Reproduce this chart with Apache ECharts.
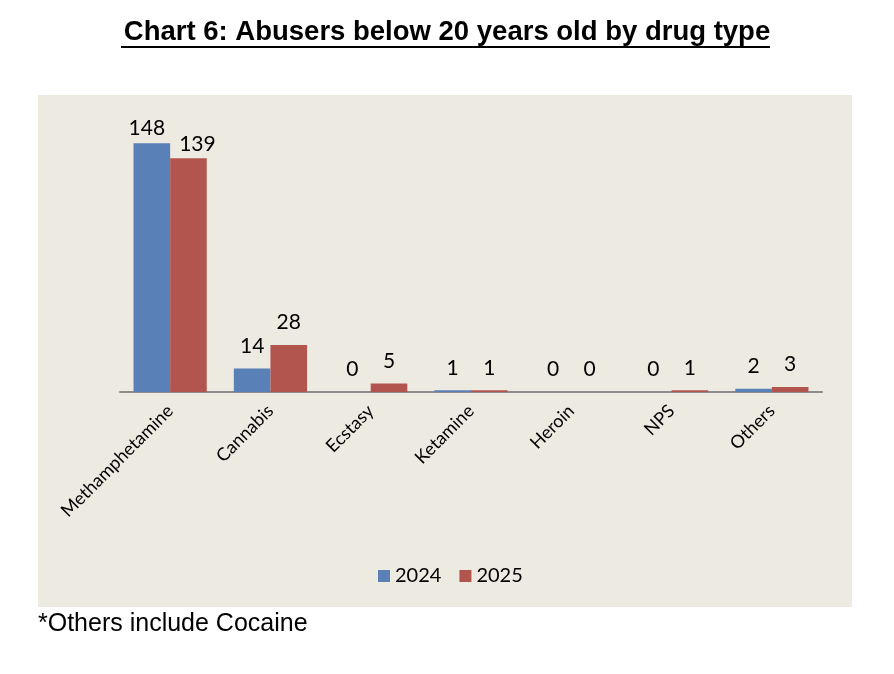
<!DOCTYPE html>
<html>
<head>
<meta charset="utf-8">
<style>
  html, body { margin: 0; padding: 0; background: #fff; }
  #chart { width: 894px; height: 674px; }
</style>
<script src="https://cdn.jsdelivr.net/npm/echarts@6/dist/echarts.min.js"></script>
</head>
<body>
<div id="chart"></div>
<script>
var categories = ['Methamphetamine', 'Cannabis', 'Ecstasy', 'Ketamine', 'Heroin', 'NPS', 'Others'];
var values2024 = [148, 14, 0, 1, 0, 0, 2];
var values2025 = [139, 28, 5, 1, 0, 1, 3];
var seriesNames = ['2024', '2025'];

var blue = '#5A80B8';
var red = '#B2554F';
var panel = '#EDEAE2';

// Excel lifts labels of short bars a bit more, and nudges the tall pair apart
function withLabels(arr, nudge) {
  return arr.map(function(v) {
    return { value: v, label: { distance: v > 100 ? 4 : 12, offset: [v > 100 ? nudge : 0, 0] } };
  });
}

var chart = echarts.init(document.getElementById('chart'), null, { renderer: 'canvas' });

chart.setOption({
  animation: false,
  backgroundColor: '#ffffff',
  graphic: [
    { type: 'rect', z: -10, shape: { x: 38, y: 95, width: 814, height: 512 }, style: { fill: panel } },
    { type: 'text', left: 'center', top: 18, style: { text: 'Chart 6: Abusers below 20 years old by drug type', font: 'bold 27.5px "Liberation Sans", Arial, sans-serif', fill: '#000' } },
    { type: 'line', shape: { x1: 121, y1: 47, x2: 770, y2: 47 }, style: { stroke: '#000', lineWidth: 2 } },
    { type: 'text', left: 38, top: 612, style: { text: '*Others include Cocaine', font: '25px "Liberation Sans", Arial, sans-serif', fill: '#000' } }
  ],
  legend: {
    data: seriesNames,
    top: 561,
    left: 373,
    itemWidth: 12,
    itemHeight: 12,
    itemGap: 18,
    icon: 'rect',
    textStyle: { fontFamily: 'Lato', fontSize: 20, color: '#000' }
  },
  grid: { left: 120, right: 72, top: 123, bottom: 282 },
  xAxis: {
    type: 'category',
    data: categories,
    axisLine: { lineStyle: { color: '#8C8C8C', width: 2 } },
    axisTick: { show: false },
    axisLabel: { rotate: 45, interval: 0, margin: 16, fontFamily: 'Lato', fontSize: 18, color: '#000' }
  },
  yAxis: {
    type: 'value',
    min: 0,
    max: 160,
    show: false,
    splitLine: { show: false }
  },
  series: [
    {
      name: seriesNames[0],
      type: 'bar',
      data: withLabels(values2024, -5),
      barGap: '0%',
      barCategoryGap: '27%',
      itemStyle: { color: blue },
      label: { show: true, position: 'top', fontFamily: 'Lato', fontSize: 21, color: '#000' }
    },
    {
      name: seriesNames[1],
      type: 'bar',
      data: withLabels(values2025, 9),
      barGap: '0%',
      barCategoryGap: '27%',
      itemStyle: { color: red },
      label: { show: true, position: 'top', fontFamily: 'Lato', fontSize: 21, color: '#000' }
    }
  ]
});

window.addEventListener('resize', function() { chart.resize(); });
</script>
</body>
</html>
